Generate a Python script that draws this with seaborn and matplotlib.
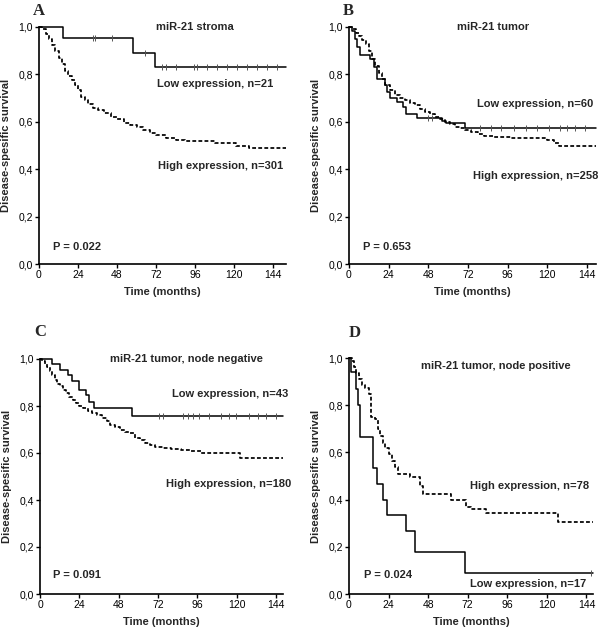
import numpy as np
import pandas as pd
import matplotlib
matplotlib.use("Agg")
import matplotlib.pyplot as plt
import seaborn as sns

sns.set_style("ticks")
plt.rcParams["font.family"] = ["Liberation Sans", "DejaVu Sans"]

# ---------------- data ----------------
x_ticks = [0, 24, 48, 72, 96, 120, 144]
y_ticks = [0.0, 0.2, 0.4, 0.6, 0.8, 1.0]
y_tick_labels = ["0,0", "0,2", "0,4", "0,6", "0,8", "1,0"]

# Panel A: miR-21 stroma
a_low_t = [0, 15, 57.6, 71.4]
a_low_s = [1.0, 0.952, 0.889, 0.830]
a_low_cens = [33.4, 34.5, 44.7, 65.2, 75.9, 78, 84.1, 95.4, 97, 103.2, 109.3,
              115.5, 121.7, 127.8, 134, 140.1, 146.3]
a_high_t = [0, 2, 4, 6, 8, 10, 12, 14, 16, 18, 20, 22, 24, 26, 28, 30, 33, 36,
            40, 44, 48, 52, 56, 60, 64, 68, 72, 78, 84, 90, 96, 108, 121, 129]
a_high_s = [1.0, 0.99, 0.97, 0.95, 0.925, 0.9, 0.87, 0.845, 0.815, 0.795, 0.775,
            0.755, 0.735, 0.705, 0.69, 0.675, 0.66, 0.648, 0.637, 0.62, 0.612,
            0.595, 0.585, 0.578, 0.565, 0.552, 0.543, 0.533, 0.525, 0.52, 0.517,
            0.51, 0.50, 0.49]

# Panel B: miR-21 tumor
b_low_t = [0, 2, 3.6, 5, 6.6, 12.7, 15, 17, 21.8, 22.8, 24.8, 28.8, 32.9, 34.5,
           40.9, 56, 59, 70.2]
b_low_s = [1.0, 0.983, 0.95, 0.917, 0.883, 0.867, 0.833, 0.78, 0.755, 0.727,
           0.70, 0.685, 0.664, 0.633, 0.615, 0.605, 0.594, 0.575]
b_low_cens = [48, 50, 79, 86, 92, 100, 107, 114, 121, 128, 132, 137, 143]
b_high_t = [0, 2, 4, 6, 8, 10, 12, 14, 16, 18, 20, 22, 25, 28, 31, 34, 37, 40,
            43, 46, 49, 52, 55, 58, 61, 64, 67, 70, 74, 78, 82, 88, 98, 120, 124,
            127]
b_high_s = [1.0, 0.99, 0.975, 0.96, 0.945, 0.93, 0.9, 0.865, 0.835, 0.805, 0.78,
            0.755, 0.735, 0.713, 0.70, 0.692, 0.68, 0.671, 0.655, 0.643, 0.632,
            0.622, 0.61, 0.60, 0.59, 0.579, 0.572, 0.565, 0.555, 0.548, 0.54,
            0.535, 0.53, 0.525, 0.51, 0.498]

# Panel C: miR-21 tumor, node negative
c_low_t = [0, 7.5, 12.5, 17, 19.5, 24, 28, 30, 33, 56]
c_low_s = [1.0, 0.977, 0.953, 0.930, 0.907, 0.870, 0.845, 0.818, 0.79, 0.757]
c_low_cens = [72.8, 74.9, 87.1, 90.2, 93.2, 97.3, 103.4, 110.5, 115.6, 119.7,
              127.8, 132.9, 138.0, 144.0]
c_high_t = [0, 1.5, 3, 4.5, 6, 7.5, 9, 10.5, 12, 14, 16, 18, 20, 22, 24, 26, 29,
            32, 35, 38, 41, 43, 46, 49, 52, 55, 58, 61, 64, 67, 70, 75, 80, 86,
            92, 98, 122]
c_high_s = [1.0, 0.99, 0.98, 0.965, 0.95, 0.93, 0.91, 0.895, 0.885, 0.868, 0.855,
            0.84, 0.825, 0.811, 0.80, 0.79, 0.78, 0.77, 0.76, 0.748, 0.735, 0.72,
            0.71, 0.70, 0.69, 0.684, 0.665, 0.655, 0.641, 0.632, 0.627, 0.622,
            0.618, 0.612, 0.607, 0.598, 0.578]

# Panel D: miR-21 tumor, node positive
d_low_t = [0, 1.5, 4.2, 5.2, 6.6, 14.7, 17.1, 20.8, 23.2, 34.5, 39.9, 70.2]
d_low_s = [1.0, 0.94, 0.87, 0.80, 0.667, 0.533, 0.467, 0.40, 0.333, 0.267,
           0.178, 0.089]
d_low_cens = [147]
d_high_t = [0, 2, 3, 4.5, 6, 8, 10, 12, 13.5, 16, 17.5, 19, 20.5, 22, 24, 26,
            28, 30, 37, 43, 45, 62, 71, 74, 83, 126.5]
d_high_s = [1.0, 0.987, 0.962, 0.936, 0.91, 0.885, 0.872, 0.846, 0.75, 0.74,
            0.70, 0.67, 0.64, 0.62, 0.595, 0.565, 0.54, 0.507, 0.495, 0.458,
            0.422, 0.40, 0.37, 0.362, 0.342, 0.304]

titles = ["miR-21 stroma", "miR-21 tumor", "miR-21 tumor, node negative",
          "miR-21 tumor, node positive"]
low_labels = ["Low expression, n=21", "Low expression, n=60",
              "Low expression, n=43", "Low expression, n=17"]
high_labels = ["High expression, n=301", "High expression, n=258",
               "High expression, n=180", "High expression, n=78"]
p_labels = ["P = 0.022", "P = 0.653", "P = 0.091", "P = 0.024"]
letters = ["A", "B", "C", "D"]

panels = [
    dict(low=(a_low_t, a_low_s, a_low_cens), high=(a_high_t, a_high_s),
         xmax=152, rect=(39, 27, 286, 264),
         title_xy=(72, 0.998), low_xy=(72.6, 0.76), high_xy=(73.4, 0.415),
         p_xy=(8.8, 0.073), letter_xy=(33, 15)),
    dict(low=(b_low_t, b_low_s, b_low_cens), high=(b_high_t, b_high_s),
         xmax=149.5, rect=(349, 27, 596, 264),
         title_xy=(65.1, 0.998), low_xy=(77.2, 0.675), high_xy=(75.2, 0.371),
         p_xy=(8.7, 0.07), letter_xy=(343, 15)),
    dict(low=(c_low_t, c_low_s, c_low_cens), high=(c_high_t, c_high_s),
         xmax=148.3, rect=(40, 359, 283, 594),
         title_xy=(42.7, 1.0), low_xy=(80.4, 0.85), high_xy=(76.9, 0.469),
         p_xy=(8.1, 0.08), letter_xy=(34, 336)),
    dict(low=(d_low_t, d_low_s, d_low_cens), high=(d_high_t, d_high_s),
         xmax=148, rect=(349, 358, 593, 594),
         title_xy=(43.4, 0.966), low_xy=(73.6, 0.041), high_xy=(73.6, 0.458),
         p_xy=(9.1, 0.079), letter_xy=(349, 337)),
]

W, H = 600, 632
fig = plt.figure(figsize=(W / 100, H / 100), dpi=100)

txt_kw = dict(fontsize=8, fontweight="bold", ha="left", va="center")

for i, pn in enumerate(panels):
    l, t, r, b = pn["rect"]
    ax = fig.add_axes([l / W, 1 - b / H, (r - l) / W, (b - t) / H])
    xmax = pn["xmax"]

    lt, ls_, lc = pn["low"]
    ht, hs = pn["high"]
    df_low = pd.DataFrame({"t": list(lt) + [xmax], "s": list(ls_) + [ls_[-1]]})
    df_high = pd.DataFrame({"t": list(ht) + [xmax], "s": list(hs) + [hs[-1]]})

    sns.lineplot(data=df_high, x="t", y="s", ax=ax, color="black",
                 drawstyle="steps-post", estimator=None, sort=False,
                 linewidth=1.25, linestyle=(0, (2.2, 1.3)), clip_on=False)
    sns.lineplot(data=df_low, x="t", y="s", ax=ax, color="black",
                 drawstyle="steps-post", estimator=None, sort=False,
                 linewidth=1.1, clip_on=False)

    idx = np.searchsorted(np.asarray(lt), np.asarray(lc), side="right") - 1
    cens = pd.DataFrame({"t": lc, "s": np.asarray(ls_)[idx]})
    sns.scatterplot(data=cens, x="t", y="s", ax=ax, marker="|", s=14,
                    color="#555555", linewidth=0.7, zorder=3, clip_on=False)

    ax.set_xlim(0, xmax)
    ax.set_ylim(0, 1.0)
    ax.set_xticks(x_ticks)
    ax.set_xticklabels([str(v) for v in x_ticks])
    ax.set_yticks(y_ticks)
    ax.set_yticklabels(y_tick_labels)
    ax.tick_params(direction="out", length=3, width=1, labelsize=7.5, pad=1.3,
                   colors="black")
    for sp in ["top", "right"]:
        ax.spines[sp].set_visible(False)
    for sp in ["left", "bottom"]:
        ax.spines[sp].set_linewidth(1.2)
        ax.spines[sp].set_color("black")

    ax.set_xlabel("Time (months)", fontsize=8, fontweight="bold", labelpad=5)
    ax.set_ylabel("Disease-spesific survival", fontsize=8, fontweight="bold",
                  labelpad=5.5)

    ax.text(*pn["title_xy"], titles[i], **txt_kw)
    ax.text(*pn["low_xy"], low_labels[i], **txt_kw)
    ax.text(*pn["high_xy"], high_labels[i], **txt_kw)
    ax.text(*pn["p_xy"], p_labels[i], **txt_kw)

    lx, ly = pn["letter_xy"]
    fig.text(lx / W, 1 - ly / H, letters[i], fontsize=12, fontweight="bold",
             family=["Liberation Serif", "DejaVu Serif"], ha="left",
             va="baseline")

fig.savefig("out.png", dpi=100)
